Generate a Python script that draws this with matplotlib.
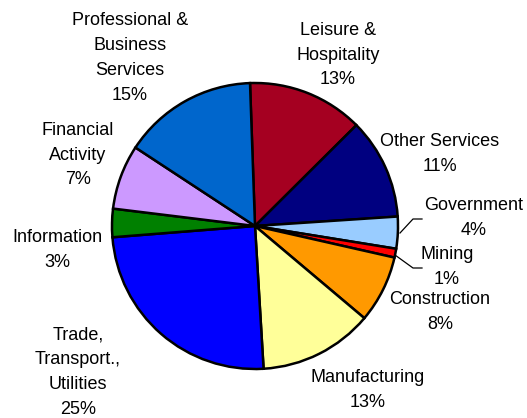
import matplotlib.pyplot as plt

plt.rcParams['font.family'] = ['Liberation Sans', 'DejaVu Sans']

# industry shares, clockwise from the top
industries = ['Leisure &\nHospitality', 'Other Services', 'Government', 'Mining',
              'Construction', 'Manufacturing', 'Trade,\nTransport.,\nUtilities',
              'Information', 'Financial\nActivity', 'Professional &\nBusiness\nServices']
shares = [13.1, 11.4, 3.6, 1.0, 7.6, 12.9, 24.7, 3.2, 7.3, 15.2]
colors = ['#A50021', '#000080', '#99CCFF', '#FF0000', '#FF9900',
          '#FFFF99', '#0000FF', '#008000', '#CC99FF', '#0066CC']

# label centres in pixels (x, y from top)
label_pos = [(338, 55), (440, 154), (474, 218), (447, 267), (440, 312),
             (368, 390), (78, 372), (57, 250), (78, 155), (130, 58)]

W, H = 527, 418
fig = plt.figure(figsize=(W / 100, H / 100), dpi=100)
ax = fig.add_axes([0, 0, 1, 1])

ax.pie(shares, colors=colors, startangle=92, counterclock=False,
       center=(255, H - 226), radius=143,
       wedgeprops=dict(edgecolor='black', linewidth=1.8))

ax.set_xlim(0, W)
ax.set_ylim(0, H)
ax.set_aspect('equal')
ax.axis('off')

for name, v, (x, y) in zip(industries, shares, label_pos):
    ax.text(x, H - y, f'{name}\n{round(v)}%', ha='center', va='center',
            fontsize=13, linespacing=1.6)

# leader lines for the thin slices
ax.plot([400, 413, 422], [H - 233, H - 219, H - 219], color='black', lw=0.9)
ax.plot([395, 413, 422], [H - 255, H - 268, H - 268], color='black', lw=0.9)

fig.savefig('out.png', dpi=100)
